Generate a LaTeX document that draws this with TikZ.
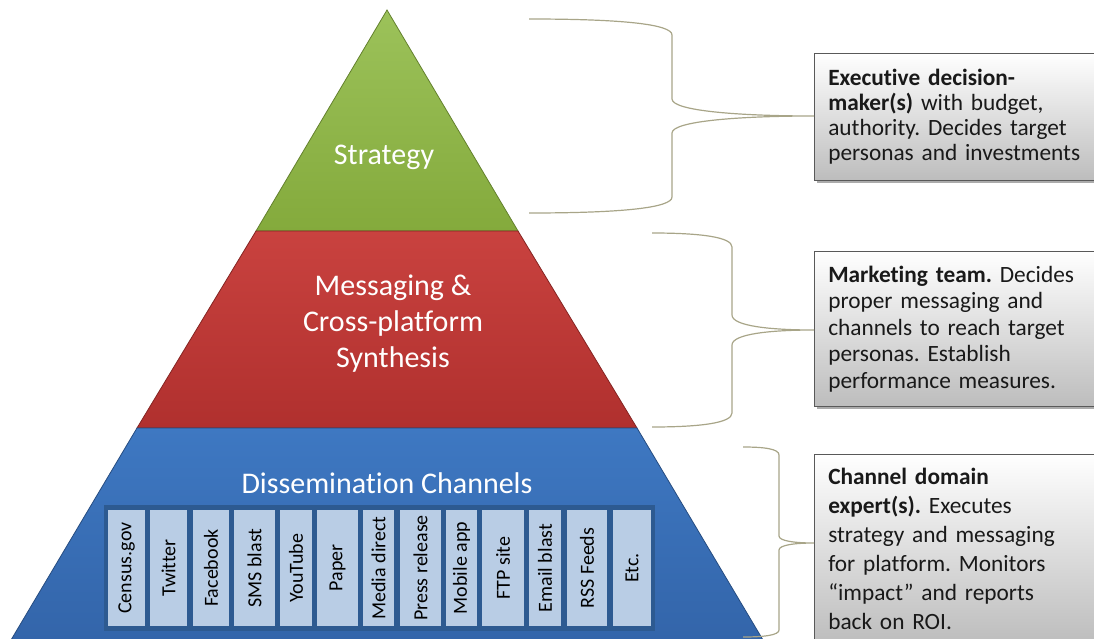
\documentclass[tikz,border=0pt]{standalone}
\usepackage{fontspec}
\setmainfont{Carlito}[Ligatures={TeX,NoCommon}]
\usepackage{tikz}
\usetikzlibrary{shadows}
\frenchspacing

\definecolor{greentop}{HTML}{9CC25A}
\definecolor{greenbot}{HTML}{84AA3C}
\definecolor{redtop}{HTML}{C9423F}
\definecolor{redbot}{HTML}{B0302E}
\definecolor{bluetop}{HTML}{3E78C2}
\definecolor{bluebot}{HTML}{3365AA}
\definecolor{chanfill}{HTML}{B9CDE5}
\definecolor{chanedge}{HTML}{2D5A91}
\definecolor{bracecol}{HTML}{A8A588}

\begin{document}
\begin{tikzpicture}[x=0.75pt,y=-0.75pt]
% Default actions for each node
\tikzstyle{lbl} = [text=white, align=center, font=\fontsize{22.5}{27}\selectfont]
\tikzstyle{chan} = [draw=chanedge, fill=chanfill, line width=1.2pt, rotate=90,
  minimum width=88pt, inner sep=0pt, font=\fontsize{15}{18}\selectfont]
\tikzstyle{role} = [draw=black!65, top color=white, bottom color=black!26,
  drop shadow={shadow xshift=2pt, shadow yshift=-2pt, fill=black!55, opacity=0.6},
  anchor=north west, align=left, text width=196.5pt, inner xsep=10.5pt,
  font=\fontsize{17.5}{18.75}\selectfont, text=black!90]
\tikzstyle{brace} = [draw=bracecol, line width=0.9pt]
\useasboundingbox (0,0) rectangle (1094,638);
\clip (0,0) rectangle (1094,638);
% Corners of the three layers
\coordinate (apex) at (387,10);
\coordinate (gl) at (256,231);
\coordinate (gr) at (518,231);
\coordinate (rl) at (137,428);
\coordinate (rr) at (637,428);
\coordinate (bl) at (11,640);
\coordinate (br) at (763,640);
% Draw the layers
\draw[greenbot!75!black, line width=0.6pt, top color=greentop, bottom color=greenbot]
  (apex) -- (gr) -- (gl) -- cycle;
\draw[redbot!75!black, line width=0.6pt, top color=redtop, bottom color=redbot]
  (gl) -- (gr) -- (rr) -- (rl) -- cycle;
\draw[bluebot!75!black, line width=0.6pt, top color=bluetop, bottom color=bluebot]
  (rl) -- (rr) -- (br) -- (bl) -- cycle;
% Layer titles
\node [lbl] (strat) at (384,157) {Strategy};
\node [lbl] (msg) at (393,324) {Messaging \&\\Cross-platform\\Synthesis};
\node [lbl] (diss) at (387,483) {Dissemination Channels};
% Channel boxes
\fill[chanedge] (104,505) rectangle (655,631);
\foreach \x/\w/\t [count=\i] in {126.5/39/Census.gov, 168.5/39/Twitter,
  211/38/Facebook, 254.5/43/SMS blast, 296/34/YouTube, 337.5/43/Paper,
  378.5/33/Media direct, 420.5/43/Press release, 461.5/33/Mobile app,
  503/44/FTP site, 545/34/Email blast, 587/42/RSS Feeds, 632/40/Etc.}
  \node [chan, minimum height={\w*0.75pt}] (ch\i) at (\x,568) {\t};
% Role boxes
\node [role, minimum height=95.25pt] (exec) at (814,53) {\textbf{Executive decision-}\\
  \textbf{maker(s)} with budget,\\authority. Decides target\\personas and investments};
\node [role, minimum height=116.25pt, font=\fontsize{17.5}{19.9}\selectfont] (mkt) at (814,251)
  {\textbf{Marketing team.} Decides\\proper messaging and\\channels to reach target\\
  personas. Establish\\performance measures.};
\node [role, minimum height=142pt, font=\fontsize{17.5}{21.75}\selectfont] (expert) at (814,454)
  {\textbf{Channel domain}\\\textbf{expert(s).} Executes\\strategy and messaging\\
  for platform. Monitors\\“impact” and reports\\back on ROI.};
% Brace tips on the boxes
\coordinate (tip1) at (exec.west |- 0,116);
\coordinate (tip2) at (mkt.west |- 0,330);
\coordinate (tip3) at (expert.west |- 0,543);
% Draw braces
\draw[brace] (529,19) .. controls (620,19) and (672,24) .. (672,35) -- (672,99)
  .. controls (672,111) and (740,116) .. (tip1)
  .. controls (740,116) and (672,121) .. (672,133) -- (672,197)
  .. controls (672,208) and (620,213) .. (529,213);
\draw[brace] (652,233) .. controls (700,233) and (732,237) .. (732,247) -- (732,315)
  .. controls (732,326) and (770,330) .. (tip2)
  .. controls (770,330) and (732,334) .. (732,345) -- (732,413)
  .. controls (732,423) and (700,427) .. (652,427);
\draw[brace] (743,447) .. controls (765,447) and (779,449) .. (779,455) -- (779,536)
  .. controls (779,541) and (795,543) .. (tip3)
  .. controls (795,543) and (779,545) .. (779,550) -- (779,630)
  .. controls (779,635) and (765,637) .. (743,637);
\end{tikzpicture}
\end{document}
